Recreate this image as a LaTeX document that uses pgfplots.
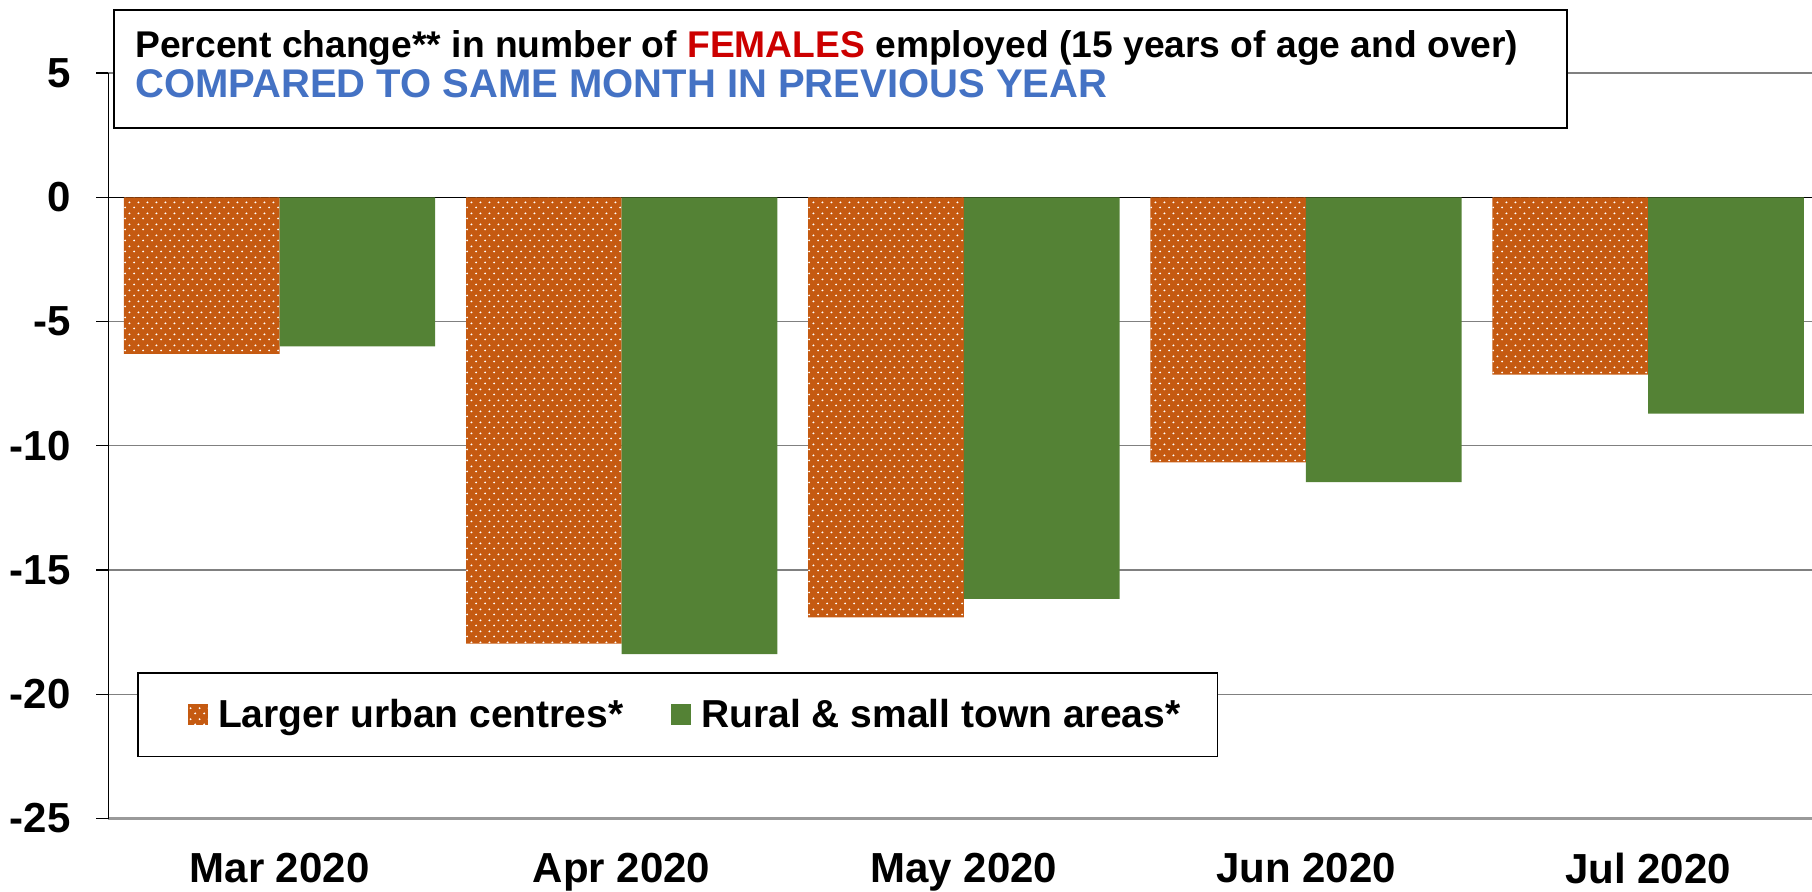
\documentclass[border=0pt]{standalone}
\usepackage{pgfplots}
\pgfplotsset{compat=1.18}
\usetikzlibrary{patterns}
\usepackage{fontspec}
\setmainfont{Liberation Sans}

\definecolor{urbanor}{HTML}{C55A11}
\definecolor{ruralgr}{HTML}{548235}
\definecolor{titleblue}{HTML}{4472C4}
\definecolor{femred}{HTML}{CC0000}
\definecolor{gridc}{HTML}{808080}
\definecolor{baseaxis}{HTML}{9A9A9A}

% white dots on the orange bars
\pgfdeclarepatternformonly{wdots}{\pgfqpoint{0pt}{0pt}}{\pgfqpoint{4.4pt}{5.5pt}}{\pgfqpoint{4.4pt}{5.5pt}}{%
  \pgfpathcircle{\pgfqpoint{1.1pt}{1.375pt}}{0.55pt}%
  \pgfpathcircle{\pgfqpoint{3.3pt}{4.125pt}}{0.55pt}%
  \pgfusepath{fill}}

\pgfplotstableread{
x urban rural
0 -6.30 -6.00
1 -17.96 -18.39
2 -16.91 -16.16
3 -10.67 -11.46
4 -7.14 -8.71
}\femdata

\begin{document}
\begin{tikzpicture}
\path[use as bounding box] (-54.25pt,-36.25pt) rectangle (851.75pt,409.25pt);
\begin{axis}[
    at={(0pt,0pt)}, anchor=south west,
    scale only axis,
    width=851.75pt, height=372.75pt,
    ybar, bar width=0.455,
    xmin=-0.5, xmax=4.479,
    ymin=-25, ymax=5,
    ytick={-25,-20,-15,-10,-5,0,5},
    xtick={0,1,2,3,4},
    xticklabels={Mar 2020,Apr 2020,May 2020,Jun 2020,Jul 2020},
    axis x line*=bottom, axis y line*=left,
    x axis line style={baseaxis, line width=1.1pt},
    y axis line style={black, line width=0.9pt},
    tick align=outside,
    major tick length=6pt,
    ytick style={black, line width=0.6pt},
    xtick style={draw=none},
    ymajorgrids=true,
    major grid style={gridc, line width=0.6pt},
    extra y ticks={0},
    extra y tick labels={},
    extra y tick style={grid=major, major grid style={black, line width=0.6pt}},
    /pgf/number format/assume math mode=true,
    yticklabel style={font=\bfseries\fontsize{21}{25}\selectfont, inner sep=0pt, xshift=-12.75pt},
    xticklabel style={font=\bfseries\fontsize{21}{25}\selectfont, inner sep=0pt, yshift=-11pt},
    legend columns=-1,
    legend image code/.code={%
        \path (0pt,0pt);
        \draw[#1, draw=none] (6.5pt,-5pt) rectangle (16.5pt,5.5pt);},
    legend style={
        at={(0.017,0.196)}, anchor=north west,
        draw=black, line width=0.6pt, fill=white,
        inner xsep=18.5pt, inner ysep=13pt,
        nodes={inner sep=0pt},
        font=\bfseries\fontsize{19.5}{23}\selectfont,
        /tikz/every odd column/.append style={column sep=5pt},
        /tikz/every even column/.append style={column sep=17.5pt},
    },
]
\addplot[fill=urbanor, draw=none, bar shift=-0.2275,
    postaction={pattern=wdots, pattern color=white}]
    table[x=x, y=urban] {\femdata};
\addlegendentry{Larger urban centres*}
\addplot[fill=ruralgr, draw=none, bar shift=0.2275]
    table[x=x, y=rural] {\femdata};
\addlegendentry{Rural \& small town areas*}
\end{axis}

% title box
\draw[black, line width=1.2pt, fill=white] (2.75pt,345.25pt) rectangle (729.25pt,404.25pt);
\node[anchor=base west, inner sep=0pt, font=\bfseries\fontsize{18.6}{22}\selectfont]
    at (13.25pt,380.25pt) {Percent change** in number of \textcolor{femred}{FEMALES} employed (15 years of age and over)};
\node[anchor=base west, inner sep=0pt, text=titleblue, font=\bfseries\fontsize{20}{23}\selectfont]
    at (13.25pt,360.25pt) {COMPARED TO SAME MONTH IN PREVIOUS YEAR};
\end{tikzpicture}
\end{document}
